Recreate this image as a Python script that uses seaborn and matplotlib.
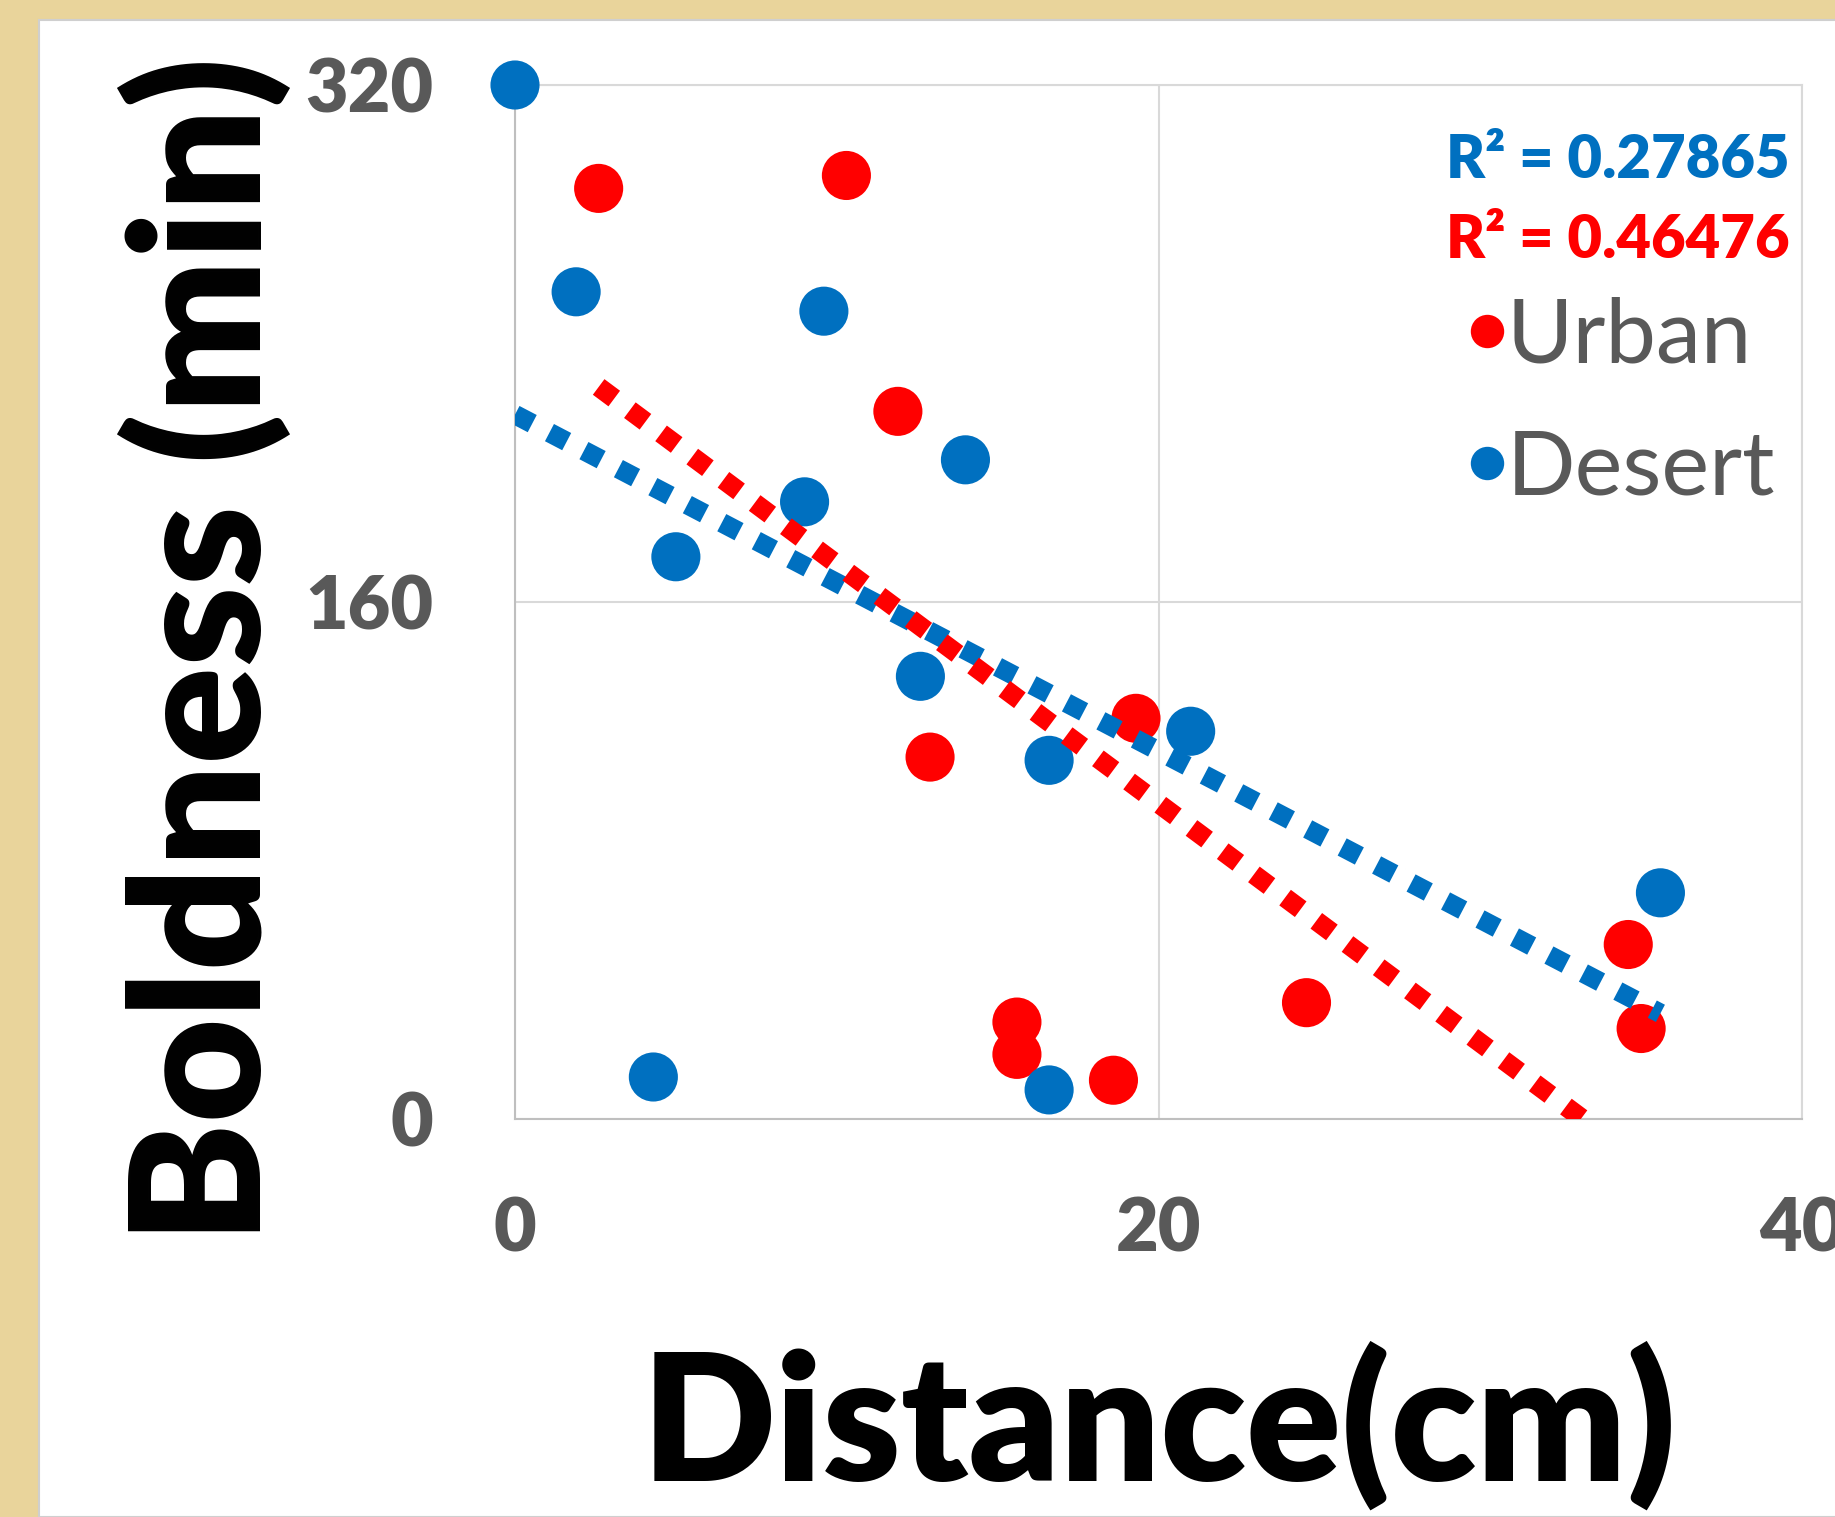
import numpy as np
import pandas as pd
import matplotlib
matplotlib.use("Agg")
import matplotlib.pyplot as plt
import seaborn as sns

# valores (distancia en cm, boldness en min)
desert_x = [0.0, 1.9, 9.6, 5.0, 9.0, 14.0, 12.6, 16.6, 21.0, 4.3, 16.6, 35.6]
desert_y = [320, 256, 250, 174, 191, 204, 137, 111, 120, 13, 9, 70]
urban_x = [2.6, 10.3, 11.9, 12.9, 19.3, 15.6, 15.6, 18.6, 24.6, 34.6, 35.0]
urban_y = [288, 292, 219, 112, 124, 30, 20, 12, 36, 54, 28]
r2_desert = "R² = 0.27865"
r2_urban = "R² = 0.46476"
x_ticks = [0, 20, 40]
y_ticks = [0, 160, 320]

BLUE = "#0070c0"
RED = "#ff0000"
GRAY = "#595959"

df = pd.DataFrame({
    "x": urban_x + desert_x,
    "y": urban_y + desert_y,
    "grupo": ["Urban"] * len(urban_x) + ["Desert"] * len(desert_x),
})

sns.set_style("white")
plt.rcParams["font.family"] = ["Lato", "DejaVu Sans"]

fig = plt.figure(figsize=(18.35, 15.17), dpi=100, facecolor="#e9d49b")
# hoja blanca del póster
fig.patches.append(plt.Rectangle((39 / 1835, 0), 1, 1 - 20 / 1517, transform=fig.transFigure,
                                 facecolor="white", edgecolor="#cfcfcf", lw=1.5, zorder=-5))
ax = fig.add_axes([515 / 1835, 1 - 1119 / 1517, 1287 / 1835, 1034 / 1517])
ax.set_facecolor("none")
ax.set_zorder(2)

sns.scatterplot(data=df, x="x", y="y", hue="grupo", palette={"Urban": RED, "Desert": BLUE},
                hue_order=["Urban", "Desert"], s=1250, linewidth=0, ax=ax, zorder=3,
                clip_on=False)
dots = dict(lw=14, linestyle=(0, (1, 1)), dash_capstyle="butt", solid_capstyle="butt")
sns.regplot(data=df[df.grupo == "Desert"], x="x", y="y", scatter=False, ci=None, ax=ax,
            line_kws=dict(color=BLUE, zorder=4, **dots))
sns.regplot(data=df[df.grupo == "Urban"], x="x", y="y", scatter=False, ci=None, ax=ax,
            line_kws=dict(color=RED, zorder=4, **dots))

ax.set_xlim(0, 40)
ax.set_ylim(0, 320)
ax.set_xticks(x_ticks)
ax.set_yticks(y_ticks)
ax.grid(True, color="#d9d9d9", lw=1.5)
for sp in ax.spines.values():
    sp.set_color("#d9d9d9")
    sp.set_linewidth(1.5)
ax.spines["left"].set_color("#bfbfbf")
ax.spines["bottom"].set_color("#bfbfbf")
ax.tick_params(length=0, labelsize=53, labelcolor=GRAY)
ax.tick_params(axis="y", pad=59)
ax.tick_params(axis="x", pad=56)
for t in ax.get_xticklabels() + ax.get_yticklabels():
    t.set_fontweight("heavy")

ax.set_xlabel("Distance(cm)", fontsize=127, fontweight="heavy", color="black", va="center")
ax.xaxis.set_label_coords(0.5004, -0.296)
ax.set_ylabel("Boldness (min)", fontsize=130, fontweight="heavy", color="black", va="center")
ax.yaxis.set_label_coords(-0.241, 0.4536)

ax.text(0.9907, 0.9265, r2_desert, transform=ax.transAxes, ha="right", va="center",
        fontsize=43, fontweight="heavy", color=BLUE)
ax.text(0.9907, 0.850, r2_urban, transform=ax.transAxes, ha="right", va="center",
        fontsize=43, fontweight="heavy", color=RED)

leg = ax.legend(loc="upper left", bbox_to_anchor=(0.741, 0.795), frameon=False,
                fontsize=65, markerscale=0.68, handlelength=0.4, handletextpad=0.02,
                labelspacing=0.55, borderpad=0, borderaxespad=0)
for t in leg.get_texts():
    t.set_color(GRAY)

fig.savefig("out.png", dpi=100, facecolor=fig.get_facecolor())
